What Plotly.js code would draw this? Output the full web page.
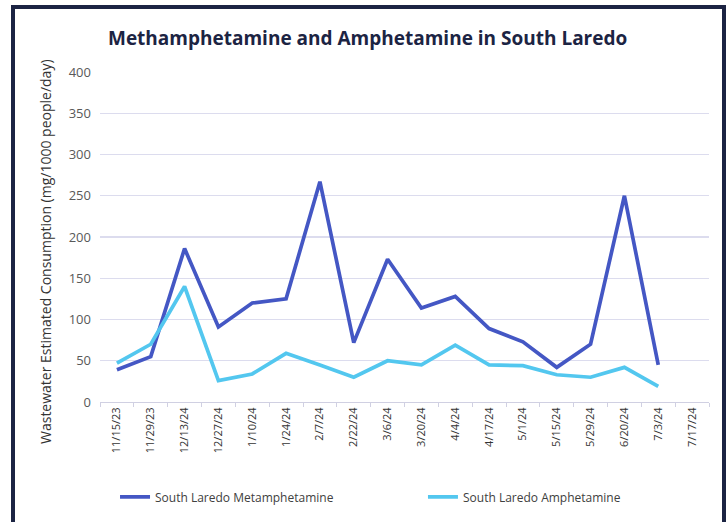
<!DOCTYPE html>
<html>
<head>
<meta charset="utf-8">
<script src="https://cdn.plot.ly/plotly-3.0.1.min.js"></script>
<style>
  html, body { margin: 0; padding: 0; background: #ffffff; }
  #chart { position: absolute; left: 0; top: 0; width: 728px; height: 522px; }
  #frame { position: absolute; left: 11px; top: 5px; width: 707px; height: 530px;
           border: 4px solid #1c2443; border-bottom: none; pointer-events: none; }
</style>
</head>
<body>
<div id="chart"></div>
<div id="frame"></div>
<script>
const dates = ["11/15/23","11/29/23","12/13/24","12/27/24","1/10/24","1/24/24","2/7/24","2/22/24","3/6/24","3/20/24","4/4/24","4/17/24","5/1/24","5/15/24","5/29/24","6/20/24","7/3/24","7/17/24"];
const methValues = [39, 55, 186, 91, 120, 125, 267, 72, 173, 114, 128, 89, 73, 42, 70, 250, 45, null];
const amphValues = [47, 70, 140, 26, 34, 59, 45, 30, 50, 45, 69, 45, 44, 33, 30, 42, 19, null];
const yTicks = [0, 50, 100, 150, 200, 250, 300, 350, 400];
const yTitle = "Wastewater Estimated Consumption (mg/1000 people/day)";

const font = "Open Sans, Noto Sans, sans-serif";

const traces = [
  { x: dates, y: methValues, type: "scatter", mode: "lines", name: "South Laredo Metamphetamine",
    line: { color: "#4457c4", width: 3.7 }, legend: "legend" },
  { x: dates, y: amphValues, type: "scatter", mode: "lines", name: "South Laredo Amphetamine",
    line: { color: "#53c7ef", width: 3.7 }, legend: "legend2" }
];

const legendBase = { orientation: "h", xanchor: "left", xref: "container", yref: "container",
                     y: 0.048, yanchor: "middle", font: { size: 12, color: "#404040" },
                     bgcolor: "rgba(0,0,0,0)" };

const layout = {
  width: 728, height: 522,
  margin: { l: 100, r: 19, t: 72, b: 120, autoexpand: false },
  paper_bgcolor: "#ffffff", plot_bgcolor: "#ffffff",
  font: { family: font, color: "#404040" },
  title: { text: "<b>Methamphetamine and Amphetamine in South Laredo</b>",
           font: { size: 19, color: "#1c2443", family: font },
           xref: "container", x: 0.505, xanchor: "center", yref: "container", y: 0.927, yanchor: "middle" },
  xaxis: { type: "category", tickangle: -90, tickfont: { size: 11, color: "#333333" },
           showgrid: false, showline: true, linecolor: "#d0d0e2", linewidth: 1,
           ticks: "outside", tickson: "boundaries", ticklen: 4, tickcolor: "#d0d0e2",
           range: [-0.5, 17.5], fixedrange: true, automargin: false },
  yaxis: { range: [0, 400], tickvals: yTicks, tickfont: { size: 13, color: "#595959" },
           gridcolor: "#dcdcee", gridwidth: 1.2, zeroline: false, showline: false,
           ticks: "", ticklabelstandoff: 8, automargin: false },
  annotations: [
    { text: yTitle, textangle: -90, xref: "paper", yref: "paper", x: 0, y: 0.5,
      xshift: -55, yshift: -15, showarrow: false, xanchor: "center", yanchor: "middle",
      font: { size: 14, color: "#333333", family: font } }
  ],
  legend: Object.assign({}, legendBase, { x: 0.158 }),
  legend2: Object.assign({}, legendBase, { x: 0.581 }),
  showlegend: true
};

Plotly.newPlot("chart", traces, layout, { displayModeBar: false, staticPlot: true });
</script>
</body>
</html>
